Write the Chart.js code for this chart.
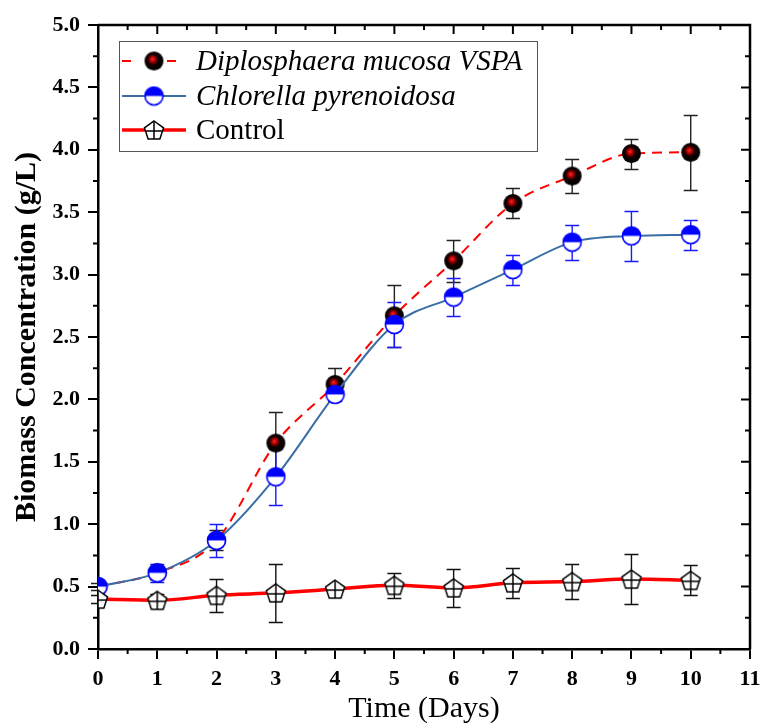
<!DOCTYPE html>
<html>
<head>
<meta charset="utf-8">
<script src="https://cdn.jsdelivr.net/npm/chart.js@4.4.1/dist/chart.umd.min.js"></script>
<style>
  html, body { margin: 0; padding: 0; background: #fff; }
  #wrap { width: 760px; height: 727px; position: relative; }
</style>
</head>
<body>
<div id="wrap"><canvas id="growth"></canvas></div>
<script>
// ── Data ─────────────────────────────────────────────
const days      = [0, 1, 2, 3, 4, 5, 6, 7, 8, 9, 10];
const diplo     = [0.50, 0.61, 0.87, 1.65, 2.12, 2.67, 3.11, 3.57, 3.79, 3.97, 3.98];
const diploErr  = [0.03, 0.05, 0.08, 0.25, 0.13, 0.25, 0.17, 0.12, 0.14, 0.12, 0.30];
const chlor     = [0.50, 0.61, 0.87, 1.38, 2.04, 2.60, 2.82, 3.04, 3.26, 3.31, 3.32];
const chlorErr  = [0.00, 0.07, 0.13, 0.23, 0.04, 0.18, 0.15, 0.12, 0.14, 0.20, 0.12];
const ctrl      = [0.40, 0.39, 0.43, 0.45, 0.48, 0.51, 0.49, 0.53, 0.54, 0.56, 0.55];
const ctrlErr   = [0.03, 0.05, 0.13, 0.23, 0.03, 0.10, 0.15, 0.12, 0.14, 0.20, 0.12];
const seriesNames = ['Diplosphaera mucosa VSPA', 'Chlorella pyrenoidosa', 'Control'];

const SERIF = "'Liberation Serif', 'Times New Roman', serif";

// ── Marker images ────────────────────────────────────
function makeCanvas(s) {
    const c = document.createElement('canvas');
    c.width = c.height = s;
    return c;
}
function ballMarker(r) {
    const s = 2 * r + 2, c = makeCanvas(s), g = c.getContext('2d'), m = s / 2;
    const grad = g.createRadialGradient(m - 1.5, m - 2, 0, m - 1, m - 1, r);
    grad.addColorStop(0, '#ff2a2a');
    grad.addColorStop(0.28, '#b00000');
    grad.addColorStop(0.55, '#150000');
    grad.addColorStop(1, '#000');
    g.fillStyle = grad;
    g.beginPath(); g.arc(m, m, r, 0, Math.PI * 2); g.fill();
    return c;
}
function halfCircleMarker(r) {
    const s = 2 * r + 3, c = makeCanvas(s), g = c.getContext('2d'), m = s / 2;
    g.fillStyle = '#fff';
    g.beginPath(); g.arc(m, m, r, 0, Math.PI * 2); g.fill();
    g.fillStyle = '#0000ff';
    g.beginPath(); g.arc(m, m, r, Math.PI, 0); g.closePath(); g.fill();
    g.strokeStyle = '#0000ff'; g.lineWidth = 1.6;
    g.beginPath(); g.arc(m, m, r, 0, Math.PI * 2); g.stroke();
    return c;
}
function pentagonMarker(r) {
    const s = 2 * r + 4, c = makeCanvas(s), g = c.getContext('2d'), m = s / 2;
    g.beginPath();
    for (let i = 0; i < 5; i++) {
        const a = -Math.PI / 2 + i * 2 * Math.PI / 5;
        const x = m + r * Math.cos(a), y = m + 1 + r * Math.sin(a);
        i ? g.lineTo(x, y) : g.moveTo(x, y);
    }
    g.closePath();
    g.fillStyle = '#fff'; g.fill();
    g.strokeStyle = '#000'; g.lineWidth = 1.5; g.stroke();
    g.beginPath();
    g.moveTo(m, m + 1 - r); g.lineTo(m, m + 1 + r * 0.81);
    g.moveTo(m - r * 0.9, m + 1); g.lineTo(m + r * 0.9, m + 1);
    g.stroke();
    return c;
}
const BALL = ballMarker(9.5);
const HALF = halfCircleMarker(9);
const PENT = pentagonMarker(10);

// ── Plugins ──────────────────────────────────────────
const errorBars = {
    id: 'errorBars',
    beforeDatasetsDraw(chart) {
        const { ctx, scales: { x, y } } = chart;
        ctx.save();
        chart.data.datasets.forEach(ds => {
            if (!ds.err) return;
            ctx.strokeStyle = ds.errColor;
            ctx.lineWidth = 1.4;
            ds.data.forEach((p, i) => {
                const e = ds.err[i];
                if (!e) return;
                const px = x.getPixelForValue(p.x);
                const top = Math.round(y.getPixelForValue(p.y + e)) + 0.5;
                const bot = Math.round(y.getPixelForValue(p.y - e)) + 0.5;
                ctx.beginPath();
                ctx.moveTo(px, top); ctx.lineTo(px, bot);
                ctx.moveTo(px - 7, top); ctx.lineTo(px + 7, top);
                ctx.moveTo(px - 7, bot); ctx.lineTo(px + 7, bot);
                ctx.stroke();
            });
        });
        ctx.restore();
    }
};

const frame = {
    id: 'frame',
    afterDraw(chart) {
        const { ctx, chartArea: a, scales: { x, y } } = chart;
        ctx.save();
        ctx.strokeStyle = '#000';
        ctx.lineWidth = 2.5;
        ctx.beginPath();
        ctx.moveTo(a.left, a.top); ctx.lineTo(a.right, a.top); ctx.lineTo(a.right, a.bottom);
        ctx.stroke();
        ctx.lineWidth = 2;
        ctx.beginPath();
        for (let v = 0; v <= 11; v += 0.5) {
            const px = x.getPixelForValue(v), major = v % 1 === 0;
            if (!major) { ctx.moveTo(px, a.bottom); ctx.lineTo(px, a.bottom + 5); }
            ctx.moveTo(px, a.top); ctx.lineTo(px, a.top + (major ? 9 : 5));
        }
        for (let v = 0; v <= 5; v += 0.25) {
            const py = y.getPixelForValue(v), major = Math.abs(v * 2 - Math.round(v * 2)) < 1e-9;
            if (!major) { ctx.moveTo(a.left, py); ctx.lineTo(a.left - 5, py); }
            ctx.moveTo(a.right, py); ctx.lineTo(a.right - (major ? 9 : 5), py);
        }
        ctx.stroke();

        // legend
        const bx = 119, by = 41, bw = 418, bh = 110;
        ctx.lineWidth = 1;
        ctx.strokeStyle = '#555';
        ctx.strokeRect(bx + 0.5, by + 0.5, bw, bh);
        const rows = [61, 96, 130];
        const mx = 154;
        // row 1: dashed red
        ctx.strokeStyle = '#ff0000'; ctx.lineWidth = 2;
        ctx.beginPath(); ctx.moveTo(122, rows[0]); ctx.lineTo(131, rows[0]);
        ctx.moveTo(167, rows[0]); ctx.lineTo(176, rows[0]); ctx.stroke();
        ctx.drawImage(BALL, mx - BALL.width / 2, rows[0] - BALL.height / 2);
        // row 2: blue line
        ctx.strokeStyle = '#3a6ea5'; ctx.lineWidth = 2;
        ctx.beginPath(); ctx.moveTo(122, rows[1]); ctx.lineTo(186, rows[1]); ctx.stroke();
        ctx.drawImage(HALF, mx - HALF.width / 2, rows[1] - HALF.height / 2);
        // row 3: thick red
        ctx.strokeStyle = '#ff0000'; ctx.lineWidth = 3.5;
        ctx.beginPath(); ctx.moveTo(122, rows[2]); ctx.lineTo(186, rows[2]); ctx.stroke();
        ctx.drawImage(PENT, mx - PENT.width / 2, rows[2] - PENT.height / 2);

        ctx.fillStyle = '#000';
        ctx.textBaseline = 'middle';
        ctx.textAlign = 'left';
        ctx.font = `italic 29px ${SERIF}`;
        ctx.fillText(seriesNames[0], 196, rows[0] + 1);
        ctx.fillText(seriesNames[1], 196, rows[1] + 1);
        ctx.font = `29px ${SERIF}`;
        ctx.fillText(seriesNames[2], 196, rows[2] + 1);
        ctx.restore();
    }
};

// ── Chart ────────────────────────────────────────────
const tickFont = { family: SERIF, size: 22, weight: 'bold' };

new Chart(document.getElementById('growth'), {
    type: 'line',
    data: {
        labels: days,
        datasets: [
            {
                label: seriesNames[0],
                data: diplo, err: diploErr, errColor: '#222',
                borderColor: '#ff0000', borderWidth: 2, borderDash: [10, 7],
                pointStyle: BALL, pointRadius: 9,
                cubicInterpolationMode: 'monotone', order: 3
            },
            {
                label: seriesNames[1],
                data: chlor, err: chlorErr, errColor: '#1a1aff',
                borderColor: '#3a6ea5', borderWidth: 2,
                pointStyle: HALF, pointRadius: 9,
                cubicInterpolationMode: 'monotone', order: 2
            },
            {
                label: seriesNames[2],
                data: ctrl, err: ctrlErr, errColor: '#111',
                borderColor: '#ff0000', borderWidth: 3.5,
                pointStyle: PENT, pointRadius: 10,
                cubicInterpolationMode: 'monotone', order: 1
            }
        ].map(d => ({ ...d, data: d.data.map((v, i) => ({ x: days[i], y: v })) }))
    },
    options: {
        responsive: true,
        maintainAspectRatio: false,
        animation: false,
        layout: { autoPadding: false, padding: { top: 25, right: 10, left: 0, bottom: 0 } },
        plugins: { legend: { display: false }, tooltip: { enabled: false } },
        scales: {
            x: {
                type: 'linear', min: 0, max: 11,
                afterFit: s => { s.height = 78; s.paddingRight = 0; s.paddingLeft = 0; },
                ticks: { stepSize: 1, font: tickFont, color: '#000', padding: 7 },
                grid: { drawOnChartArea: false, tickLength: 10, color: '#000', lineWidth: 2 },
                border: { color: '#000', width: 2.5 },
                title: { display: true, text: 'Time (Days)', color: '#000',
                         font: { family: SERIF, size: 30 }, padding: { top: 0, bottom: 0 } }
            },
            y: {
                min: 0, max: 5,
                afterFit: s => { s.width = 98; s.paddingTop = 0; s.paddingBottom = 0; },
                ticks: { stepSize: 0.5, font: tickFont, color: '#000', padding: 8,
                         callback: v => v.toFixed(1) },
                grid: { drawOnChartArea: false, tickLength: 10, color: '#000', lineWidth: 2 },
                border: { color: '#000', width: 2.5 },
                title: { display: true, text: 'Biomass Concentration (g/L)', color: '#000',
                         font: { family: SERIF, size: 30, weight: 'bold' }, padding: { top: 9, bottom: 0 } }
            }
        }
    },
    plugins: [errorBars, frame]
});
</script>
</body>
</html>
